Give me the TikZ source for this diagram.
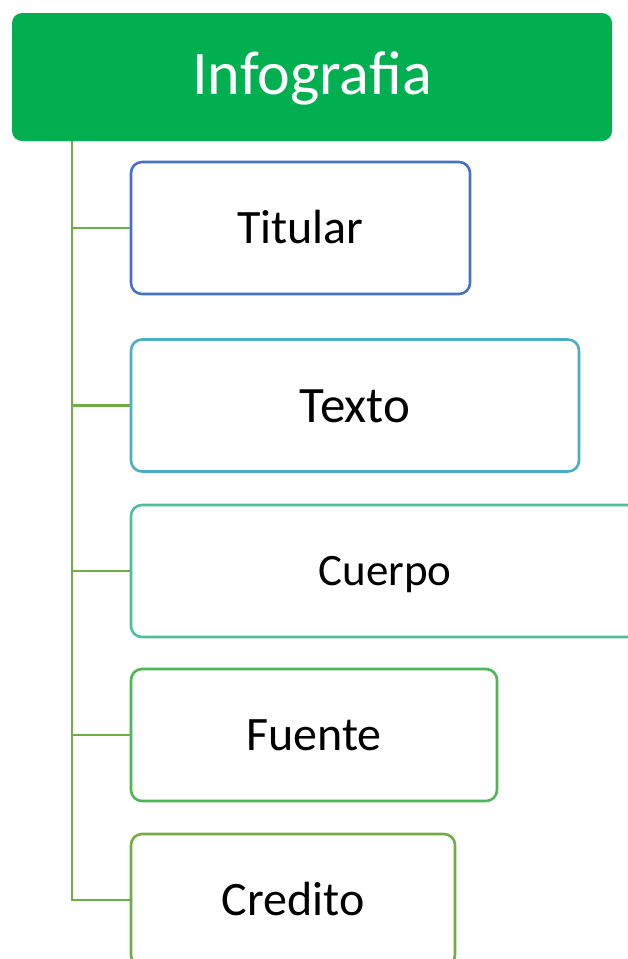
\documentclass[tikz,border=0pt]{standalone}
\usepackage{fontspec}
\setmainfont{Carlito}
\definecolor{rootgreen}{HTML}{00B050}
\definecolor{conngreen}{HTML}{70AD47}
\definecolor{cTitular}{HTML}{4472C4}
\definecolor{cTexto}{HTML}{4BACC6}
\definecolor{cCuerpo}{HTML}{4EBF96}
\definecolor{cFuente}{HTML}{4FB655}
\definecolor{cCredito}{HTML}{70AD47}
\begin{document}
\begin{tikzpicture}[x=1pt,y=-1pt,
  rootbox/.style={fill=rootgreen, draw=none, rounded corners=10pt, text=white,
    minimum width=600pt, minimum height=128pt, inner sep=0pt,
    font=\fontsize{62}{74}\selectfont, text height=40pt, text depth=6pt},
  itembox/.style={draw=#1, fill=white, line width=2.6pt, rounded corners=11pt,
    minimum height=132pt, inner sep=0pt, text=black,
    font=\fontsize{48}{58}\selectfont, text height=31pt, text depth=0pt},
  conn/.style={draw=conngreen, line width=2.6pt}]
\useasboundingbox (0,0) rectangle (628,959);
\clip (0,0) rectangle (628,959);
\node[rootbox] (root) at (312,77) {Infografia};
\node[itembox=cTitular, minimum width=339pt] (titular) at (300.5,228) {Titular};
\node[itembox=cTexto, minimum width=448pt, font=\fontsize{51}{61}\selectfont, text height=33pt] (texto) at (355,405.5) {Texto};
\node[itembox=cCuerpo, minimum width=508pt, font=\fontsize{45}{54}\selectfont, text height=29pt] (cuerpo) at (385,571) {Cuerpo};
\node[itembox=cFuente, minimum width=366pt] (fuente) at (314,735) {Fuente};
\node[itembox=cCredito, minimum width=324pt] (credito) at (293,900) {Credito};
\coordinate (trunk) at (72,141);
\draw[conn] (trunk) |- (titular.west);
\draw[conn] (trunk) |- (texto.west);
\draw[conn] (trunk) |- (cuerpo.west);
\draw[conn] (trunk) |- (fuente.west);
\draw[conn] (trunk) |- (credito.west);
\end{tikzpicture}
\end{document}
